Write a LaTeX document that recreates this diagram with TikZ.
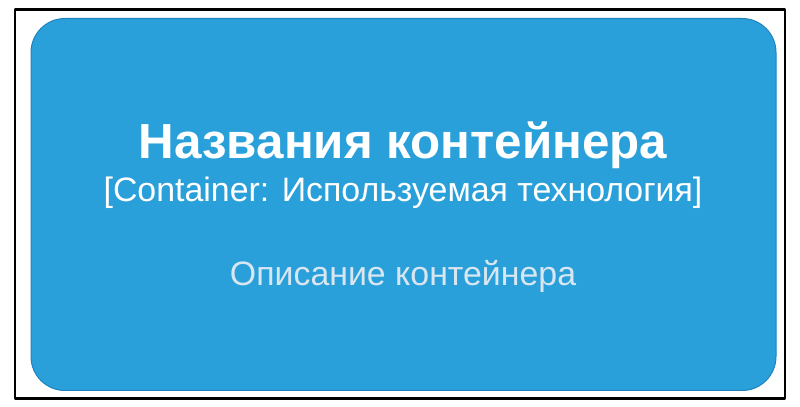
\documentclass[tikz,border=0pt]{standalone}
\usepackage{fontspec}
\setmainfont{Liberation Sans}
\usetikzlibrary{positioning}
\definecolor{boxblue}{RGB}{42,160,218}
\definecolor{boxedge}{RGB}{30,130,190}
\definecolor{desctext}{RGB}{215,230,240}
\begin{document}
\begin{tikzpicture}[x=1bp,y=1bp,line join=bevel,]
%%
\useasboundingbox (0bp,0bp) rectangle (800bp,407bp);
\node (frame) at (400bp,203bp) [draw=black,line width=2.2bp,minimum width=770bp,minimum height=389bp,inner sep=0pt] {};
\node (box) at (403.5bp,202.5bp) [draw=boxedge,fill=boxblue,line width=1bp,rounded corners=34bp,minimum width=745bp,minimum height=372bp,inner sep=0pt] {};
  \node (node_title) at (403bp,262bp) [text=white,font=\bfseries\fontsize{49.5}{55}\selectfont] {Названия контейнера};
  \node (node_tech) at (403bp,214bp) [text=white,font=\fontsize{34}{40}\selectfont] {[Container: Используемая технология]};
  \node (node_desc) at (403bp,131bp) [text=desctext,font=\fontsize{34}{40}\selectfont] {Описание контейнера};
%
\end{tikzpicture}
\end{document}
